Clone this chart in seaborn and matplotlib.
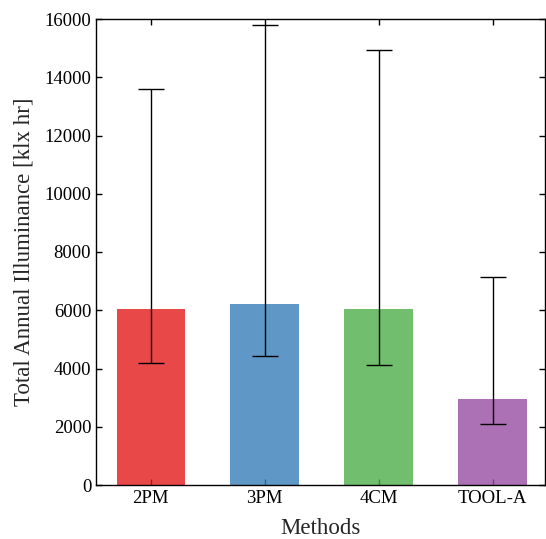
import matplotlib
matplotlib.use("Agg")
import matplotlib.pyplot as plt
import seaborn as sns
import numpy as np
import pandas as pd

methods = ["2PM", "3PM", "4CM", "TOOL-A"]
means = [6050, 6230, 6030, 2950]
err_low = [4180, 4420, 4130, 2100]
err_high = [13600, 15780, 14920, 7150]

sns.set_style("white")
plt.rcParams['font.family'] = ['Liberation Serif', 'DejaVu Serif']
plt.rcParams['mathtext.fontset'] = 'stix'

fig = plt.figure(figsize=(5.46, 5.39), dpi=100)
ax = fig.add_axes([96/546, (539-485)/539, (545-96)/546, (485-19)/539])

df = pd.DataFrame({"Methods": methods, "Value": means})
palette = sns.color_palette("Set1", 4)
sns.barplot(data=df, x="Methods", y="Value", hue="Methods", palette=palette,
            alpha=0.8, width=0.6, errorbar=None, legend=False, ax=ax,
            linewidth=0, saturation=1)

xs = np.arange(len(methods))
yerr = np.array([np.array(means) - np.array(err_low), np.array(err_high) - np.array(means)])
ax.errorbar(xs, means, yerr=yerr, fmt='none', ecolor='black', elinewidth=1.0,
            capsize=9.5, capthick=1.0)

ax.set_xlim(-0.48, 3.46)
ax.set_ylim(0, 16000)
ax.set_yticks(np.arange(0, 16001, 2000))
ax.set_xlabel("Methods", fontsize=16.5, labelpad=8)
ax.set_ylabel("Total Annual Illuminance [klx hr]", fontsize=16.5, labelpad=7)
ax.tick_params(direction='in', top=True, right=True, bottom=True, left=True,
               length=4, width=1, labelsize=13.5, colors='black')
for s in ax.spines.values():
    s.set_visible(True)
    s.set_color('black')
    s.set_linewidth(1.0)

fig.savefig("out.png", dpi=100)
